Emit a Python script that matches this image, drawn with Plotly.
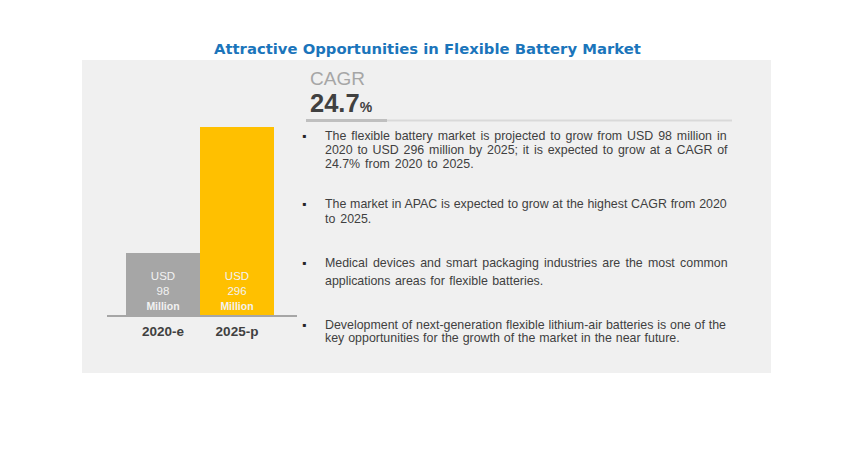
import plotly.graph_objects as go

W = 845
H = 458

years = ["2020-e", "2025-p"]
values = [98, 296]
bar_colors = ["#a6a6a6", "#ffc000"]
bar_labels = ['USD<br>98<br><span style="font-size:10.5px"><b>Million</b></span>',
              'USD<br>296<br><span style="font-size:10.5px"><b>Million</b></span>']

title = "Attractive Opportunities in Flexible Battery Market"
cagr_label = "CAGR"
cagr_value = "24.7"

bullet_lines = [
    ["The flexible battery market is projected to grow from USD 98 million in",
     "2020 to USD 296 million by 2025; it is expected to grow at a CAGR of",
     "24.7% from 2020 to 2025."],
    ["The market in APAC is expected to grow at the highest CAGR from 2020",
     "to 2025."],
    ["Medical devices and smart packaging industries are the most common",
     "applications areas for flexible batteries."],
    ["Development of next-generation flexible lithium-air batteries is one of the",
     "key opportunities for the growth of the market in the near future."],
]
line_y = [[136, 150, 164], [204, 219], [263, 281], [325, 338]]
bullet_y = [136, 204, 263, 325]
# the reference text is justified, so each line gets its own word spacing
line_gap = [[1.5, 1.4, 1.5], [0.3, 1.5], [1.8, 1.0], [0.4, 0.5]]


def px(x):
    return x / W


def py(y):
    return 1 - y / H


def note(x, y, text, size, color, anchor="left", family="Liberation Sans"):
    fig.add_annotation(x=px(x), y=py(y), xref="paper", yref="paper", text=text,
                       showarrow=False, xanchor=anchor, yanchor="middle",
                       font=dict(size=size, color=color, family=family))


fig = go.Figure()
fig.add_trace(go.Bar(x=years, y=values, width=1, marker_color=bar_colors,
                     marker_line_width=0, text=bar_labels, textposition="inside",
                     insidetextanchor="start", textangle=0,
                     textfont=dict(size=11.5, color="#f2f2f2", family="Liberation Sans"),
                     showlegend=False, hoverinfo="skip"))

# grey panel behind everything, then the rule under the CAGR figure
fig.add_shape(type="rect", xref="paper", yref="paper", layer="below",
              x0=px(82), x1=px(771), y0=py(373), y1=py(60),
              fillcolor="#f0f0f0", line_width=0)
fig.add_shape(type="line", xref="paper", yref="paper", x0=px(306), x1=px(732),
              y0=py(120.5), y1=py(120.5), line=dict(color="#d9d9d9", width=2))
fig.add_shape(type="line", xref="paper", yref="paper", x0=px(306), x1=px(387),
              y0=py(120.5), y1=py(120.5), line=dict(color="#bfbfbf", width=3))

note(427, 48, "<b>%s</b>" % title, 14.8, "#1b75bb", "center", "DejaVu Sans")
note(308, 78, cagr_label, 19, "#a6a6a6")
note(308, 103, "<b>" + cagr_value + '</b><span style="font-size:14px"><b>%</b></span>', 25.5, "#404040")

for y_list, lines, gaps in zip(line_y, bullet_lines, line_gap):
    for y, line, gap in zip(y_list, lines, gaps):
        note(323, y, '<span style="word-spacing:%spx">%s</span>' % (gap, line), 12.4, "#404040")
for y in bullet_y:
    note(300, y, "\u25aa", 12, "#262626")

fig.update_layout(
    width=W, height=H, margin=dict(l=0, r=0, t=0, b=0),
    paper_bgcolor="white", plot_bgcolor="rgba(0,0,0,0)", bargap=0,
    xaxis=dict(domain=[px(107), px(297)], range=[-0.757, 1.811], showgrid=False,
               showline=True, linecolor="#a6a6a6", linewidth=2, ticks="",
               ticklabelstandoff=3,
               tickfont=dict(size=13.5, color="#404040", family="Liberation Sans", weight="bold"),
               anchor="y"),
    yaxis=dict(domain=[py(315), py(127)], range=[0, 296], visible=False),
)

# the page's default body margin would push the figure 8px in
fig.write_html("out.html", config={"displayModeBar": False},
               post_script="document.body.style.margin='0';")
